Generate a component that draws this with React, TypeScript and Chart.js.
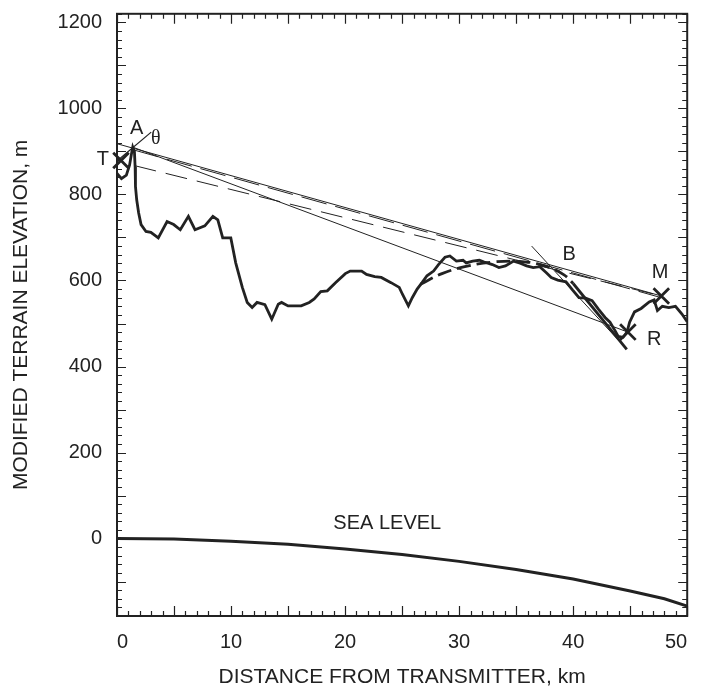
import React, { useEffect, useRef } from 'react';
import { Chart, registerables } from 'chart.js';

Chart.register(...registerables);

const FONT = '"Liberation Sans", Arial, Helvetica, sans-serif';
const INK = '#222222';

// axis ranges and tick labels
const xRange = [0, 50];
const yRange = [-180, 1220];
const xTickLabels = [0, 10, 20, 30, 40, 50];
const yTickLabels = [0, 200, 400, 600, 800, 1000, 1200];

// terrain profile [km, m]
const terrainProfile: [number, number][] = [
  [0, 849], [0.39, 837], [0.82, 845], [1.1, 868], [1.3, 899], [1.38, 910], [1.53, 899],
  [1.59, 864], [1.62, 818], [1.73, 787], [1.9, 757], [2.11, 730], [2.54, 714], [2.97, 712],
  [3.62, 699], [4.39, 737], [4.97, 730], [5.55, 718], [6.26, 749], [6.84, 718], [7.7, 727],
  [8.41, 749], [8.84, 741], [9.27, 699], [9.98, 699], [10.41, 641], [10.99, 584], [11.42, 549],
  [11.85, 537], [12.28, 549], [12.97, 544], [13.57, 510], [14.14, 545], [14.43, 549], [15.0, 541],
  [16.15, 541], [16.86, 549], [17.29, 557], [17.87, 574], [18.44, 576], [19.16, 595], [20.02, 616],
  [20.45, 622], [21.45, 622], [21.88, 614], [22.6, 609], [23.17, 607], [24.03, 595], [24.75, 584],
  [25.03, 568], [25.55, 541], [25.89, 560], [26.32, 580], [26.75, 595], [27.18, 611], [27.76, 622],
  [28.19, 637], [28.76, 654], [29.19, 657], [29.76, 645], [30.34, 647], [30.62, 641], [31.19, 645],
  [31.77, 647], [32.2, 643], [32.92, 637], [33.49, 630], [34.06, 634], [34.78, 645], [35.35, 640],
  [35.92, 634], [36.5, 630], [37.07, 632], [37.65, 618], [38.08, 607], [38.65, 601], [39.37, 597],
  [39.94, 578], [40.51, 560], [41.09, 559], [41.66, 553], [42.23, 533], [42.8, 514], [43.23, 503],
  [43.66, 484], [43.95, 470], [44.38, 468], [44.72, 480], [44.95, 503], [45.38, 527], [45.96, 535],
  [46.67, 550], [47.1, 555], [47.39, 530], [47.82, 540], [48.39, 537], [48.97, 540], [49.54, 522],
  [50, 504],
];

// sea level (earth curvature) [km, m]
const seaLevel: [number, number][] = [
  [0, 0], [5, -1], [10, -6], [15, -13], [20, -24], [25, -37], [30, -53], [35, -72],
  [40, -94], [45, -122], [48, -140], [50, -157],
];

// fitted crest (thick dashed) and its straight continuation
const crestFit: [number, number][] = [
  [26.6, 591], [28.5, 616], [30.5, 632], [33, 643], [35.5, 644], [37.5, 634], [39.2, 613], [40.0, 593],
];
const crestSlope: [number, number][] = [[40.0, 593], [44.7, 440]];

// straight construction lines
const lineSolidTM: [number, number][] = [[0, 918], [47.73, 564]];
const lineDashAM: [number, number][] = [[1.4, 904], [47.73, 560]];
const lineDashTM: [number, number][] = [[1.54, 867], [47.73, 564]];
const lineAR: [number, number][] = [[1.38, 910], [44.8, 480]];
const rayTheta: [number, number][] = [[0.1, 880], [3.0, 945]];
const tangentB: [number, number][] = [[36.36, 680], [44.67, 441]];

// X markers: T, R, M
const markerPoints: [number, number][] = [[0.35, 879], [44.8, 480], [47.73, 564]];

// text labels
const labelTexts = ['A', 'θ', 'T', 'B', 'M', 'R', 'SEA LEVEL'];
const labelKm = [1.73, 3.4, -1.25, 39.65, 47.62, 47.1, 23.7];
const labelM = [953, 930, 881, 660, 618, 464, 35];

const toXY = (pts: [number, number][]) => pts.map(([x, y]) => ({ x, y }));

const lineDs = (pts: [number, number][], width: number, dash: number[] = [], extra: any = {}) => ({
  data: toXY(pts),
  showLine: true,
  pointRadius: 0,
  borderColor: INK,
  borderWidth: width,
  borderDash: dash,
  fill: false,
  ...extra,
});

const framePlugin = {
  id: 'frameTicks',
  afterDatasetsDraw(chart: any) {
    const { ctx, chartArea: a, scales } = chart;
    const xs = scales.x;
    const ys = scales.y;
    ctx.save();
    ctx.strokeStyle = INK;
    ctx.lineWidth = 1.2;
    ctx.beginPath();
    for (let v = xRange[0]; v <= xRange[1]; v += 1) {
      const px = Math.round(xs.getPixelForValue(v)) + 0.5;
      const len = v % 5 === 0 ? 10 : 5;
      ctx.moveTo(px, a.bottom);
      ctx.lineTo(px, a.bottom - len);
      ctx.moveTo(px, a.top);
      ctx.lineTo(px, a.top + len);
    }
    for (let v = yRange[0]; v <= yRange[1]; v += 20) {
      const py = Math.round(ys.getPixelForValue(v)) + 0.5;
      const len = v % 100 === 0 ? 9 : 5;
      ctx.moveTo(a.left, py);
      ctx.lineTo(a.left + len, py);
      ctx.moveTo(a.right, py);
      ctx.lineTo(a.right - len, py);
    }
    ctx.stroke();
    ctx.lineWidth = 2;
    ctx.strokeRect(a.left, a.top, a.right - a.left, a.bottom - a.top);

    ctx.fillStyle = INK;
    ctx.textAlign = 'center';
    ctx.textBaseline = 'middle';
    labelTexts.forEach((t, i) => {
      ctx.font = t === 'θ' ? '20px "Liberation Serif", serif' : `20px ${FONT}`;
      ctx.fillText(t, xs.getPixelForValue(labelKm[i]), ys.getPixelForValue(labelM[i]));
    });
    ctx.restore();
  },
};

export default function App() {
  const ref = useRef<HTMLCanvasElement | null>(null);

  useEffect(() => {
    if (!ref.current) return;
    const chart = new Chart(ref.current, {
      type: 'scatter',
      data: {
        datasets: [
          lineDs(seaLevel, 3),
          lineDs(lineSolidTM, 1),
          lineDs(lineDashAM, 1, [26, 9]),
          lineDs(lineDashTM, 1, [22, 10]),
          lineDs(lineAR, 1),
          lineDs(rayTheta, 1.2),
          lineDs(tangentB, 1),
          lineDs(crestFit, 2.8, [14, 6], { tension: 0.4 }),
          lineDs(crestSlope, 2.8),
          lineDs(terrainProfile, 2.8),
          {
            data: toXY(markerPoints),
            showLine: false,
            pointStyle: 'crossRot',
            pointRadius: 11,
            pointBorderWidth: 2.8,
            pointBorderColor: INK,
            borderColor: INK,
            clip: false,
          },
        ] as any,
      },
      options: {
        animation: false,
        responsive: true,
        maintainAspectRatio: false,
        layout: { padding: { top: 9, right: 2, bottom: 0, left: 0 } },
        plugins: { legend: { display: false }, tooltip: { enabled: false } },
        events: [],
        scales: {
          x: {
            type: 'linear',
            min: xRange[0],
            max: xRange[1],
            grid: { display: false, drawTicks: false },
            border: { display: false },
            ticks: {
              align: 'inner',
              padding: 14,
              color: INK,
              font: { size: 20, family: FONT },
              maxRotation: 0,
              autoSkip: false,
              callback: (v: any) => String(v),
            },
            afterBuildTicks: (s: any) => {
              s.ticks = xTickLabels.map((v) => ({ value: v }));
            },
            afterFit: (s: any) => {
              s.height = 72;
              s.paddingLeft = 0;
              s.paddingRight = 0;
            },
            title: {
              display: true,
              text: 'DISTANCE FROM TRANSMITTER, km',
              color: INK,
              font: { size: 21, family: FONT, lineHeight: 1 },
              padding: { top: 0, bottom: 0 },
            },
          } as any,
          y: {
            type: 'linear',
            min: yRange[0],
            max: yRange[1],
            grid: { display: false, drawTicks: false },
            border: { display: false },
            ticks: {
              padding: 15,
              color: INK,
              font: { size: 20, family: FONT },
              autoSkip: false,
              callback: (v: any) => String(v),
            },
            afterBuildTicks: (s: any) => {
              s.ticks = yTickLabels.map((v) => ({ value: v }));
            },
            afterFit: (s: any) => {
              s.width = 117;
              s.paddingTop = 0;
              s.paddingBottom = 0;
            },
            title: {
              display: true,
              text: 'MODIFIED TERRAIN ELEVATION, m',
              color: INK,
              font: { size: 21, family: FONT, lineHeight: 1 },
              padding: { top: 11, bottom: 0 },
            },
          } as any,
        },
      },
      plugins: [framePlugin],
    });
    return () => chart.destroy();
  }, []);

  return (
    <div style={{ position: 'absolute', left: 0, top: 0, width: 701, height: 688, background: '#fff' }}>
      <canvas ref={ref} />
    </div>
  );
}
